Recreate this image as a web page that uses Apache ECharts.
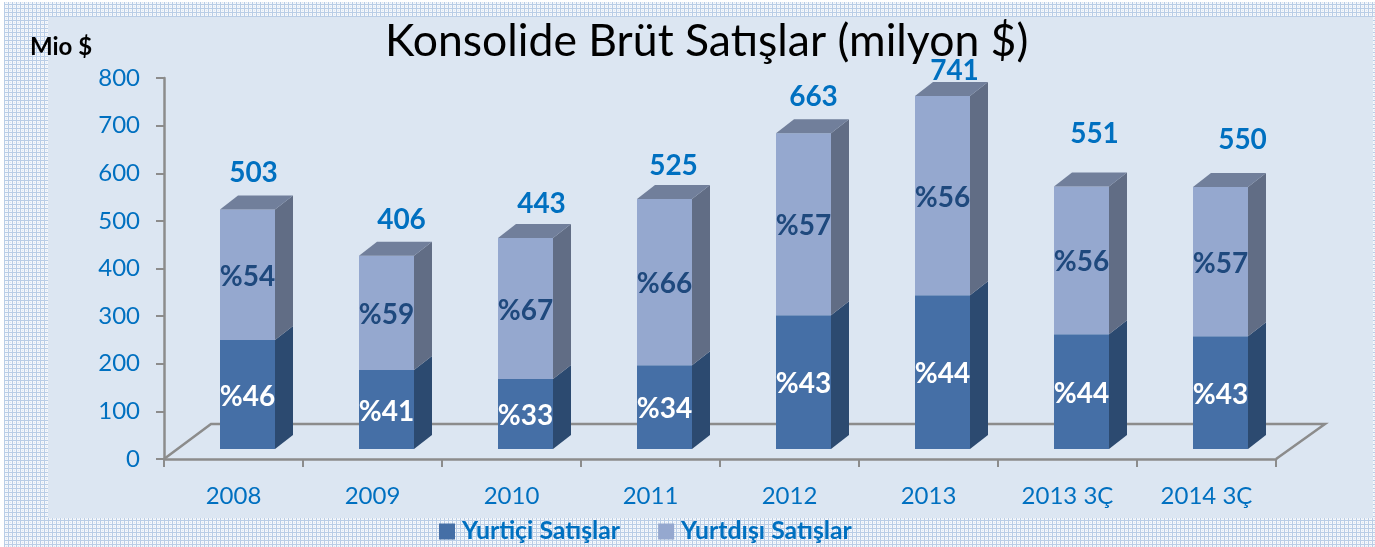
<!DOCTYPE html>
<html>
<head>
<meta charset="utf-8">
<title>Konsolide Brüt Satışlar</title>
<script src="https://cdn.jsdelivr.net/npm/echarts@6/dist/echarts.min.js"></script>
<style>
  html, body { margin: 0; padding: 0; background: #fff; }
  #chart { width: 1375px; height: 547px; }
</style>
</head>
<body>
<div id="chart"></div>
<script>
const categories = ['2008', '2009', '2010', '2011', '2012', '2013', '2013 3Ç', '2014 3Ç'];
const domestic = [229, 166, 147, 176, 281, 323, 241, 237];
const foreign = [274, 240, 296, 349, 382, 418, 310, 313];
const totals = [503, 406, 443, 525, 663, 741, 551, 550];
const domesticShare = ['%46', '%41', '%33', '%34', '%43', '%44', '%44', '%43'];
const foreignShare = ['%54', '%59', '%67', '%66', '%57', '%56', '%56', '%57'];
const yTicks = { min: 0, max: 800, interval: 100 };

// look of the fake 3d columns, in px
const barWidth = 55;
const depthX = 18;
const depthY = 14;
const shiftX = -13.5;
const shiftY = -10;
const floorX = 47;
const floorY = 35;
// total labels are not placed evenly over the columns in the original
const totalNudge = [[6, 0], [15, 0], [16, 2], [9, 3], [10, 0], [12, 11], [13, -17], [22, -11]];

const blue = '#0070c0';
const font = 'Lato, sans-serif';

// background weave
const weave = document.createElement('canvas');
weave.width = 4;
weave.height = 4;
const ctx = weave.getContext('2d');
ctx.fillStyle = '#f4f7fb';
ctx.fillRect(0, 0, 4, 4);
ctx.fillStyle = '#b9cde6';
ctx.fillRect(0, 0, 1, 4);
ctx.fillRect(0, 0, 4, 1);
ctx.fillStyle = '#dbe5f2';
ctx.fillRect(2, 2, 1, 1);

function poly(points, fill) {
  return { type: 'polygon', shape: { points: points }, style: { fill: fill } };
}

function columnItem(colors, withTop, labels) {
  return function (params, api) {
    const i = api.value(0);
    const base = api.coord([i, api.value(1)]);
    const top = api.coord([i, api.value(2)]);
    const x0 = base[0] + shiftX;
    const x1 = x0 + barWidth;
    const yb = base[1] + shiftY;
    const yt = top[1] + shiftY;
    const kids = [
      poly([[x1, yb], [x1 + depthX, yb - depthY], [x1 + depthX, yt - depthY], [x1, yt]], colors.side),
      { type: 'rect', shape: { x: x0, y: yt, width: barWidth, height: yb - yt }, style: { fill: colors.front } }
    ];
    if (withTop) {
      kids.push(poly([[x0, yt], [x0 + depthX, yt - depthY], [x1 + depthX, yt - depthY], [x1, yt]], colors.top));
    }
    kids.push({
      type: 'text',
      z2: 10,
      style: {
        x: (x0 + x1) / 2, y: (yb + yt) / 2 + 2, text: labels[i],
        fill: colors.label, font: 'bold 28px ' + font, align: 'center', verticalAlign: 'middle'
      }
    });
    if (withTop) {
      kids.push({
        type: 'text',
        z2: 10,
        style: {
          x: (x0 + x1) / 2 + totalNudge[i][0], y: yt - 36 + totalNudge[i][1], text: String(totals[i]),
          fill: blue, font: 'bold 28px ' + font, align: 'center', verticalAlign: 'middle'
        }
      });
    }
    return { type: 'group', children: kids };
  };
}

function floorItem(params, api) {
  const s = params.coordSys;
  const l = s.x, r = s.x + s.width, b = s.y + s.height;
  return {
    type: 'polyline',
    shape: { points: [[l, b], [l + floorX, b - floorY], [r + floorX + 2, b - floorY], [r, b]] },
    style: { fill: 'none', stroke: '#8c8c8c', lineWidth: 2.5 }
  };
}

const chart = echarts.init(document.getElementById('chart'), null, { renderer: 'canvas' });
chart.setOption({
  animation: false,
  backgroundColor: '#ffffff',
  graphic: [
    { type: 'rect', z: -2, shape: { x: 4, y: 2, width: 1371, height: 545 }, style: { fill: { image: weave, repeat: 'repeat' } } },
    { type: 'rect', z: -1, shape: { x: 48, y: 17, width: 1325, height: 501 }, style: { fill: '#dce6f2' } }
  ],
  title: [
    {
      text: 'Konsolide Brüt Satışlar (milyon $)',
      left: 385, top: 19, padding: 0,
      textStyle: { color: '#000', fontFamily: font, fontWeight: 'normal', fontSize: 44.5 }
    },
    {
      text: 'Mio $',
      left: 30, top: 35, padding: 0,
      textStyle: { color: '#000', fontFamily: font, fontWeight: 'bold', fontSize: 24 }
    }
  ],
  legend: {
    left: 439, top: 519, padding: 0,
    itemWidth: 16, itemHeight: 16, itemGap: 38,
    icon: 'rect',
    data: ['Yurtiçi Satışlar', 'Yurtdışı Satışlar'],
    textStyle: { color: blue, fontFamily: font, fontWeight: 'bold', fontSize: 24.8, padding: [0, 0, 0, 2] }
  },
  grid: { left: 164, right: 99, top: 78, bottom: 88 },
  xAxis: {
    type: 'category',
    data: categories,
    boundaryGap: true,
    axisLine: { lineStyle: { color: '#8c8c8c', width: 2.5 } },
    axisTick: { show: true, alignWithLabel: false, length: 8, lineStyle: { color: '#8c8c8c', width: 2 } },
    axisLabel: { color: blue, fontFamily: font, fontSize: 24, margin: 25 }
  },
  yAxis: {
    type: 'value',
    min: yTicks.min, max: yTicks.max, interval: yTicks.interval,
    splitLine: { show: false },
    axisLine: { show: true, lineStyle: { color: '#8c8c8c', width: 2.5 } },
    axisTick: { show: true, length: 8, lineStyle: { color: '#8c8c8c', width: 2 } },
    axisLabel: { color: blue, fontFamily: font, fontSize: 24, margin: 24, padding: [4, 0, 0, 0] }
  },
  series: [
    {
      type: 'custom', name: 'floor', silent: true, z: 1,
      renderItem: floorItem, data: [[0, 0]], encode: { x: 0, y: 1 }
    },
    {
      type: 'custom', name: 'Yurtiçi Satışlar', z: 2,
      itemStyle: { color: '#456fa6' },
      renderItem: columnItem({ front: '#456fa6', side: '#2c4a70', top: '#2c4a70', label: '#ffffff' }, false, domesticShare),
      encode: { x: 0, y: [1, 2] },
      data: domestic.map((v, i) => [i, 0, v])
    },
    {
      type: 'custom', name: 'Yurtdışı Satışlar', z: 3,
      itemStyle: { color: '#95a8cf' },
      renderItem: columnItem({ front: '#95a8cf', side: '#616d85', top: '#717f9b', label: '#1f497d' }, true, foreignShare),
      encode: { x: 0, y: [1, 2] },
      data: foreign.map((v, i) => [i, domestic[i], domestic[i] + v])
    }
  ]
});
</script>
</body>
</html>
